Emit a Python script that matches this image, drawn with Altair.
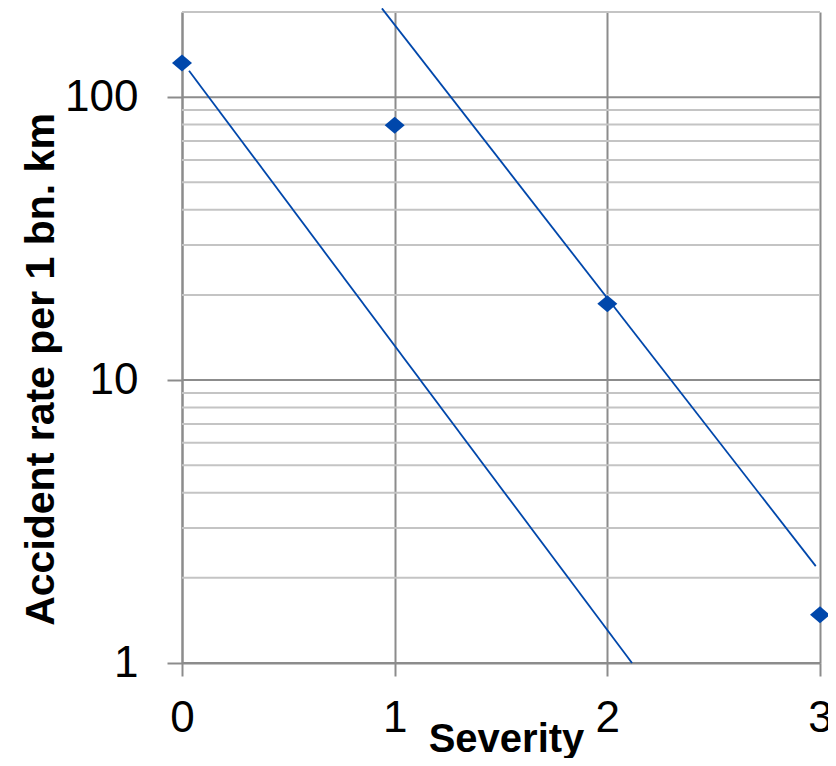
import altair as alt
import pandas as pd

# ---- data ----
severity = [0, 1, 2, 3]
accident_rate = [132, 79.6, 18.6, 1.48]

trend1_x = [0.033, 2.116]
trend1_y = [124, 1.0]
trend2_x = [0.94, 2.98]
trend2_y = [206, 2.2]

major_grid = [1, 10, 100]
minor_grid = [2, 3, 4, 5, 6, 7, 8, 9, 20, 30, 40, 50, 60, 70, 80, 90, 200]
x_ticks = [0, 1, 2, 3]

# ---- styling ----
W, H = 638, 651
BLUE = "#0047ab"
MAJOR = "#8c8c8c"
MINOR = "#c4c4c4"
LABEL_FONT = "Liberation Sans"
TITLE_FONT = "Liberation Sans"

xs = alt.Scale(domain=[0, 3], nice=False, zero=False)
ys = alt.Scale(type="log", domain=[1, 200], nice=False)

x_axis = alt.Axis(
    values=x_ticks, format="d", grid=True, gridColor=MAJOR, gridWidth=2,
    domainColor=MAJOR, domainWidth=2, tickColor=MAJOR, tickWidth=2, tickSize=13,
    labelFont=LABEL_FONT, labelFontSize=44, labelColor="black", labelPadding=20,
    labelFlush=False,
    title="Severity", titleFont=TITLE_FONT, titleFontSize=40, titleFontWeight="bold",
    titleColor="black", titleX=324, titleY=88, titleBaseline="alphabetic",
    titleAlign="center",
)
y_axis = alt.Axis(
    values=major_grid, format="d", grid=False,
    domainColor=MAJOR, domainWidth=2, tickColor=MAJOR, tickWidth=2, tickSize=15,
    labelFont=LABEL_FONT, labelFontSize=44, labelColor="black", labelPadding=29,
    labelFlush=False,
    title="Accident rate per 1 bn. km", titleFont=TITLE_FONT, titleFontSize=41,
    titleFontWeight="bold", titleColor="black", titleAngle=270,
    titleX=-129, titleY=357, titleBaseline="alphabetic", titleAlign="center",
)

pts = pd.DataFrame({"severity": severity, "rate": accident_rate})
t1 = pd.DataFrame({"severity": trend1_x, "rate": trend1_y})
t2 = pd.DataFrame({"severity": trend2_x, "rate": trend2_y})
minor_df = pd.DataFrame({"rate": minor_grid})
major_df = pd.DataFrame({"rate": major_grid})

minor = alt.Chart(minor_df).mark_rule(color=MINOR, strokeWidth=2).encode(
    y=alt.Y("rate:Q", scale=ys, axis=y_axis)
)
major = alt.Chart(major_df).mark_rule(color=MAJOR, strokeWidth=2).encode(
    y=alt.Y("rate:Q", scale=ys, axis=y_axis)
)
line1 = alt.Chart(t1).mark_line(color=BLUE, strokeWidth=1.8, clip=False).encode(
    x=alt.X("severity:Q", scale=xs, axis=x_axis),
    y=alt.Y("rate:Q", scale=ys, axis=y_axis),
)
line2 = alt.Chart(t2).mark_line(color=BLUE, strokeWidth=1.8, clip=False).encode(
    x=alt.X("severity:Q", scale=xs, axis=x_axis),
    y=alt.Y("rate:Q", scale=ys, axis=y_axis),
)
points = alt.Chart(pts).mark_point(
    shape="M-1,0L0,-0.85L1,0L0,0.85Z", size=400, filled=True, color=BLUE,
    opacity=1, clip=False,
).encode(
    x=alt.X("severity:Q", scale=xs, axis=x_axis),
    y=alt.Y("rate:Q", scale=ys, axis=y_axis),
)

chart = alt.layer(minor, major, line1, line2, points).properties(
    width=W, height=H,
    autosize=alt.AutoSizeParams(type="none"),
    padding={"left": 174, "top": 4, "right": 8, "bottom": 95},
    background="white",
).configure_view(stroke=None)

chart.save("out.html", embed_options={"renderer": "svg", "actions": False})
